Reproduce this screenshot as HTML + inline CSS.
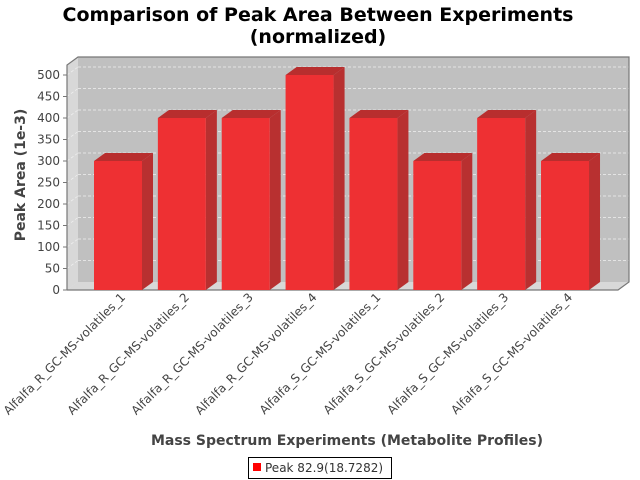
<!DOCTYPE html>
<html><head><meta charset="utf-8"><style>
body{margin:0;background:#fff;}
svg{display:block;font-family:"DejaVu Sans","Liberation Sans",sans-serif;}
</style></head><body>
<svg id="c" width="640" height="480" xmlns="http://www.w3.org/2000/svg">
<text x="318" y="21" text-anchor="middle" font-size="19" font-weight="bold" fill="#000">Comparison of Peak Area Between Experiments</text>
<text x="318" y="43" text-anchor="middle" font-size="19" font-weight="bold" fill="#000">(normalized)</text>
<g id="plot"></g>
<text transform="translate(25,175) rotate(-90)" text-anchor="middle" font-size="14" font-weight="bold" fill="#444">Peak Area (1e-3)</text>
<text x="347" y="445" text-anchor="middle" font-size="14" font-weight="bold" fill="#444">Mass Spectrum Experiments (Metabolite Profiles)</text>
<g>
<rect x="248.5" y="457.5" width="143" height="21" fill="#fff" stroke="#000"/>
<rect x="253" y="463" width="8" height="8" fill="#ff0000"/>
<text x="265" y="472" font-size="12" fill="#333">Peak 82.9(18.7282)</text>
</g>
</svg>
<script>
const categories=["Alfalfa_R_GC-MS-volatiles_1","Alfalfa_R_GC-MS-volatiles_2","Alfalfa_R_GC-MS-volatiles_3","Alfalfa_R_GC-MS-volatiles_4","Alfalfa_S_GC-MS-volatiles_1","Alfalfa_S_GC-MS-volatiles_2","Alfalfa_S_GC-MS-volatiles_3","Alfalfa_S_GC-MS-volatiles_4"];
const values=[300,400,400,500,400,300,400,300];
const yTicks=[0,50,100,150,200,250,300,350,400,450,500];
const NS="http://www.w3.org/2000/svg";
const g=document.getElementById('plot');
const L=67,R=618,B=290,DX=11,DY=8,K=0.43;
function y(v){return B-v*K;}
function x(i){return 94+i*63.86;}
const BW=48;
function mk(t,a,p){const e=document.createElementNS(NS,t);for(const k in a)e.setAttribute(k,a[k]);(p||g).appendChild(e);return e;}
// walls
let e;
e=mk('polygon',{points:`${L},${B} ${L+DX},${B-DY} ${L+DX},${y(500)-DY-10} ${L},${y(500)-10+0}`,fill:'#d8d8d8'});

e=mk('polygon',{points:`${L},${B} ${R},${B} ${R+DX},${B-DY} ${L+DX},${B-DY}`,fill:'#d8d8d8'});

e=mk('rect',{x:L+DX,y:y(500)-DY-10,width:R-L,height:B-DY-(y(500)-DY-10),fill:'#c0c0c0'});

e=mk('polygon',{points:`${L},${B} ${L+DX},${B-DY} ${R+DX},${B-DY} ${R},${B}`,fill:'#d8d8d8'});

yTicks.forEach(v=>{if(v===0)return;
 e=mk('line',{x1:L+DX,x2:R+DX,y1:y(v)-DY,y2:y(v)-DY,stroke:'#f0f0f0','stroke-width':0.7,'stroke-dasharray':'3,2'});
 
 e=mk('line',{x1:L,x2:L+DX,y1:y(v),y2:y(v)-DY,stroke:'#f0f0f0','stroke-width':0.7,'stroke-dasharray':'3,2'});
 
});
e=mk('polyline',{points:`${L},${B} ${L},${y(500)-10} ${L+DX},${y(500)-DY-10} ${R+DX},${y(500)-DY-10} ${R+DX},${B-DY} ${R},${B} ${L},${B}`,fill:'none',stroke:'#777','stroke-width':1.2});

yTicks.forEach(v=>{
 e=mk('line',{x1:L-4,x2:L,y1:y(v),y2:y(v),stroke:'#777'});
 
 e=mk('text',{x:L-7,y:y(v)+4,'text-anchor':'end','font-size':12,fill:'#444'});e.textContent=v;
 
});
values.forEach((v,i)=>{
 const x0=x(i),yt=y(v);
 const bg=mk('g',{});
 
 mk('polygon',{points:`${x0+BW},${B} ${x0+BW+DX},${B-DY} ${x0+BW+DX},${yt-DY} ${x0+BW},${yt}`,fill:'#b83030'},bg);
 mk('polygon',{points:`${x0},${yt} ${x0+DX},${yt-DY} ${x0+BW+DX},${yt-DY} ${x0+BW},${yt}`,fill:'#b82e2e'},bg);
 mk('rect',{x:x0,y:yt,width:BW,height:B-yt,fill:'#ee3033'},bg);
 const cx=x0+BW/2+8;
 e=mk('text',{x:0,y:0,transform:`translate(${cx},${B+8}) rotate(-45)`,'text-anchor':'end','font-size':12,fill:'#444'});
 e.textContent=categories[i];
 
});
</script>
</body></html>
